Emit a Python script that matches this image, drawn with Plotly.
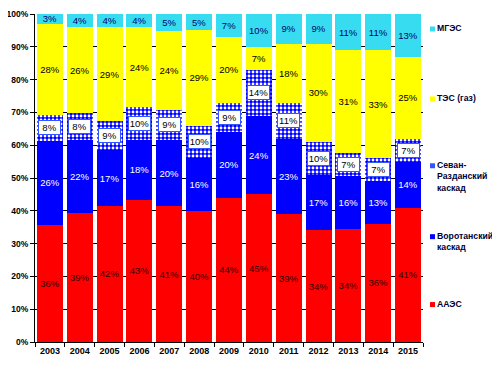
import plotly.graph_objects as go

years = ["2003", "2004", "2005", "2006", "2007", "2008", "2009",
         "2010", "2011", "2012", "2013", "2014", "2015"]
aaes = [36, 39, 42, 43, 41, 40, 44, 45, 39, 34, 34, 36, 41]
vorotan = [26, 22, 17, 18, 20, 16, 20, 24, 23, 17, 16, 13, 14]
sevan = [8, 8, 9, 10, 9, 10, 9, 14, 11, 10, 7, 7, 7]
tes = [28, 26, 29, 24, 24, 29, 20, 7, 18, 30, 31, 33, 25]
mges = [3, 4, 4, 4, 5, 5, 7, 10, 9, 9, 11, 11, 13]

names = ["ААЭС", "Воротанский каскад", "Севан-Разданский каскад", "ТЭС (газ)", "МГЭС"]
series = [aaes, vorotan, sevan, tes, mges]
colors = ["#ff0000", "#0000ff", "#0000ff", "#ffff00", "#38dcf0"]
txtcol = ["#300000", "#ffffff", "#000000", "#000000", "#000066"]

FONT = "Liberation Sans, Arial, sans-serif"

fig = go.Figure()
for i, (nm, vals) in enumerate(zip(names, series)):
    marker = dict(color=colors[i], line=dict(width=0))
    if i == 2:
        marker = dict(color="#0000ff", line=dict(width=0),
                      pattern=dict(shape=".", fgcolor="#ffffff", bgcolor="#0000ff",
                                   size=4, solidity=0.4, fillmode="replace"))
    fig.add_trace(go.Bar(
        x=years, y=vals, name=nm, marker=marker,
        text=[f"{v}%" for v in vals] if i != 2 else None,
        textposition="inside", insidetextanchor="middle", textangle=0,
        textfont=dict(family=FONT, size=9.5, color=txtcol[i]),
        constraintext="none", showlegend=False,
        hovertemplate=nm + ": %{y:.0f}%<extra></extra>",
    ))

# white label boxes for the patterned series, centred on their segments
for j, yr in enumerate(years):
    tot = sum(s[j] for s in series)
    lower = (aaes[j] + vorotan[j]) / tot * 100
    mid = lower + sevan[j] / tot * 100 / 2
    fig.add_annotation(x=j, y=mid, xref="x", yref="y", text=f"{sevan[j]}%",
                       showarrow=False, bgcolor="#ffffff", bordercolor="#3355ff",
                       borderwidth=1, borderpad=1, width=19, height=11,
                       font=dict(family=FONT, size=9.5, color="#000000"))

# legend (manual, Excel-like spacing); positions in page pixels
leg = [("МГЭС", 29, "#38dcf0"),
       ("ТЭС (газ)", 99, "#ffff00"),
       ("Севан-<br>Разданский<br>каскад", 166, "#3355ff"),
       ("Воротанский<br>каскад", 237, "#0000ff"),
       ("ААЭС", 305, "#ff0000")]
X0, X1, Y0, Y1 = 35, 423, 14, 342.5
for txt, ypx, col in leg:
    fig.add_shape(type="rect", xref="paper", yref="paper",
                  x0=(430 - X0) / (X1 - X0), x1=(435 - X0) / (X1 - X0),
                  y0=(Y1 - (ypx + 2.5)) / (Y1 - Y0), y1=(Y1 - (ypx - 2.5)) / (Y1 - Y0),
                  fillcolor=col, line=dict(width=0))
    fig.add_annotation(xref="paper", yref="paper",
                       x=(436 - X0) / (X1 - X0), y=(Y1 - (ypx - 7)) / (Y1 - Y0),
                       xanchor="left", yanchor="top", align="left",
                       text=txt, showarrow=False, borderpad=0,
                       font=dict(family=FONT, size=8.7, color="#000033", weight="bold"))

# page body has an 8px margin, so the figure is offset by (8, 8)
fig.update_layout(
    width=492, height=363,
    margin=dict(l=27, r=77, t=6, b=28.5, autoexpand=False),
    barmode="stack", barnorm="percent", bargap=0.13,
    plot_bgcolor="#ffffff", paper_bgcolor="#ffffff",
    font=dict(family=FONT, size=9, color="#000000"),
)
fig.update_xaxes(
    type="category", showline=True, linecolor="#000000", linewidth=1,
    ticks="outside", ticklen=4, tickcolor="#000000", tickson="boundaries",
    tickfont=dict(family=FONT, size=9, color="#000000", weight="bold"),
    showgrid=False, automargin=False,
)
fig.update_yaxes(
    range=[0, 100], dtick=10, ticksuffix="%", showline=True,
    linecolor="#000000", linewidth=1, ticks="outside", ticklen=4,
    tickcolor="#000000",
    tickfont=dict(family=FONT, size=8.5, color="#000000", weight="bold"),
    showgrid=True, gridcolor="#000000", gridwidth=1, zeroline=False,
    automargin=False,
)

fig.write_html("out.html")
